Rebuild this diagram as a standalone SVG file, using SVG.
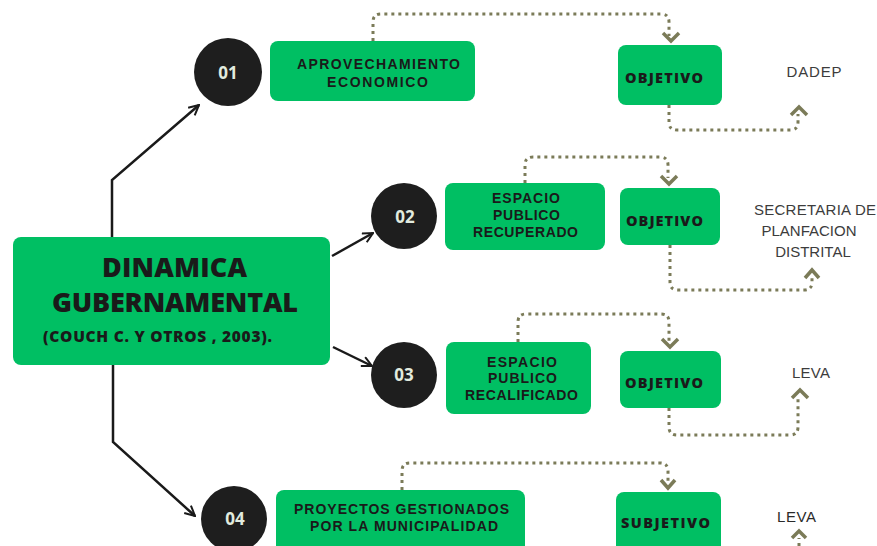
<svg xmlns="http://www.w3.org/2000/svg" width="877" height="546" viewBox="0 0 877 546">
<style>
.g{fill:#00bf63}
.c{fill:#1e1e1e}
.lbl{font-family:"Open Sans","Liberation Sans",sans-serif;font-weight:800;fill:#1a1a1a;text-anchor:middle;font-size:14.5px}
.ml{font-family:"Liberation Sans",Arial,sans-serif;font-weight:700;font-size:14px}
.num{font-family:"Open Sans","Liberation Sans",sans-serif;font-weight:700;fill:#e2ebdf;text-anchor:middle;font-size:17px}
.plain{font-family:"Liberation Sans",Arial,sans-serif;font-size:15px;fill:#3c3c3c;text-anchor:middle}
.dot{fill:none;stroke:#7b7b58;stroke-width:3;stroke-dasharray:3 4}
.chev{fill:none;stroke:#7b7b58;stroke-width:3.5;stroke-linejoin:miter}
.blk{fill:none;stroke:#1a1a1a;stroke-width:2.5}
</style>
<defs>
<marker id="ah" viewBox="0 0 12 12" refX="11" refY="6" markerWidth="12" markerHeight="12" markerUnits="userSpaceOnUse" orient="auto">
<path d="M1,1 L11,6 L1,11" fill="none" stroke="#1a1a1a" stroke-width="2"/>
</marker>
</defs>
<rect width="877" height="546" fill="#ffffff"/>

<g id="connectors">
<path class="blk" d="M112 237 V180 L199 105" marker-end="url(#ah)"/>
<path class="blk" d="M332 256 L373 233" marker-end="url(#ah)"/>
<path class="blk" d="M333 347 L372 366" marker-end="url(#ah)"/>
<path class="blk" d="M113 365 V442 L195 516" marker-end="url(#ah)"/>

<path class="dot" d="M373 41 V22 Q373 14 381 14 H661 Q669 14 669 22 V36"/>
<path class="chev" d="M663 33 L671 41 L679 33"/>
<path class="dot" d="M669 105 V122 Q669 130 677 130 H790 Q798 130 798 122 V114"/>
<path class="chev" d="M791 115 L799 107 L807 115"/>

<path class="dot" d="M525 183 V165 Q525 157 533 157 H660 Q668 157 668 165 V178"/>
<path class="chev" d="M661 176 L669 184 L677 176"/>
<path class="dot" d="M670 245 V282 Q670 290 678 290 H804 Q812 290 812 282 V278"/>
<path class="chev" d="M805 278 L812 270 L819 278"/>

<path class="dot" d="M518 342 V322 Q518 314 526 314 H661 Q669 314 669 322 V342"/>
<path class="chev" d="M662 339 L670 347 L678 339"/>
<path class="dot" d="M669 408 V427 Q669 435 677 435 H790 Q798 435 798 427 V398"/>
<path class="chev" d="M792 398 L800 390 L808 398"/>

<path class="dot" d="M402 490 V471 Q402 463 410 463 H660 Q668 463 668 471 V482"/>
<path class="chev" d="M661 480 L668 488 L675 480"/>
<path class="dot" d="M799 546 V538"/>
<path class="chev" d="M792 538 L799 531 L806 538"/>
</g>

<g id="main">
<rect class="g" x="13" y="237" width="317" height="128" rx="8"/>
<text class="lbl" x="174.5" y="277" style="font-size:27px" textLength="145">DINAMICA</text>
<text class="lbl" x="175" y="312" style="font-size:27px" textLength="246">GUBERNAMENTAL</text>
<text class="lbl" x="157.5" y="342" style="font-size:15.5px" textLength="229">(COUCH C. Y OTROS , 2003).</text>
</g>

<g id="n01">
<circle class="c" cx="228" cy="72" r="34"/>
<text class="num" x="228" y="79">01</text>
</g>
<g id="b1">
<rect class="g" x="270" y="41" width="205" height="60" rx="8"/>
<text class="lbl ml" x="378.5" y="69" textLength="163">APROVECHAMIENTO</text>
<text class="lbl ml" x="377.5" y="87" textLength="101">ECONOMICO</text>
</g>
<g id="o1">
<rect class="g" x="618" y="45" width="104" height="60" rx="8"/>
<text class="lbl" x="664" y="83" textLength="78">OBJETIVO</text>
</g>
<g id="t1"><text class="plain" x="814" y="77" textLength="55">DADEP</text></g>

<g id="n02">
<circle class="c" cx="404" cy="216" r="33"/>
<text class="num" x="405" y="223">02</text>
</g>
<g id="b2">
<rect class="g" x="445" y="183" width="160" height="67" rx="8"/>
<text class="lbl ml" x="526" y="203" textLength="68">ESPACIO</text>
<text class="lbl ml" x="526.5" y="220" textLength="67">PUBLICO</text>
<text class="lbl ml" x="525.5" y="237" textLength="105">RECUPERADO</text>
</g>
<g id="o2">
<rect class="g" x="620" y="188" width="100" height="57" rx="8"/>
<text class="lbl" x="664.5" y="226" textLength="77">OBJETIVO</text>
</g>
<g id="t2">
<text class="plain" x="815" y="215" textLength="122">SECRETARIA DE</text>
<text class="plain" x="809" y="236">PLANFACION</text>
<text class="plain" x="813" y="257">DISTRITAL</text>
</g>

<g id="n03">
<circle class="c" cx="404" cy="375" r="33"/>
<text class="num" x="404" y="381">03</text>
</g>
<g id="b3">
<rect class="g" x="446" y="342" width="145" height="72" rx="8"/>
<text class="lbl ml" x="522" y="367" textLength="70">ESPACIO</text>
<text class="lbl ml" x="522.5" y="383" textLength="69">PUBLICO</text>
<text class="lbl ml" x="521.5" y="400" textLength="113">RECALIFICADO</text>
</g>
<g id="o3">
<rect class="g" x="620" y="351" width="101" height="57" rx="8"/>
<text class="lbl" x="664" y="388" textLength="78">OBJETIVO</text>
</g>
<g id="t3"><text class="plain" x="811" y="378" textLength="38">LEVA</text></g>

<g id="n04">
<circle class="c" cx="234" cy="519" r="33"/>
<text class="num" x="235" y="525">04</text>
</g>
<g id="b4">
<rect class="g" x="276" y="490" width="249" height="70" rx="8"/>
<text class="lbl ml" x="401.5" y="514" textLength="215">PROYECTOS GESTIONADOS</text>
<text class="lbl ml" x="404" y="531" textLength="188">POR LA MUNICIPALIDAD</text>
</g>
<g id="s4">
<rect class="g" x="616" y="492" width="105" height="70" rx="8"/>
<text class="lbl" x="665.5" y="528" textLength="89">SUBJETIVO</text>
</g>
<g id="t4"><text class="plain" x="796.5" y="522" textLength="39" style="fill:#2a2a2a">LEVA</text></g>
</svg>
